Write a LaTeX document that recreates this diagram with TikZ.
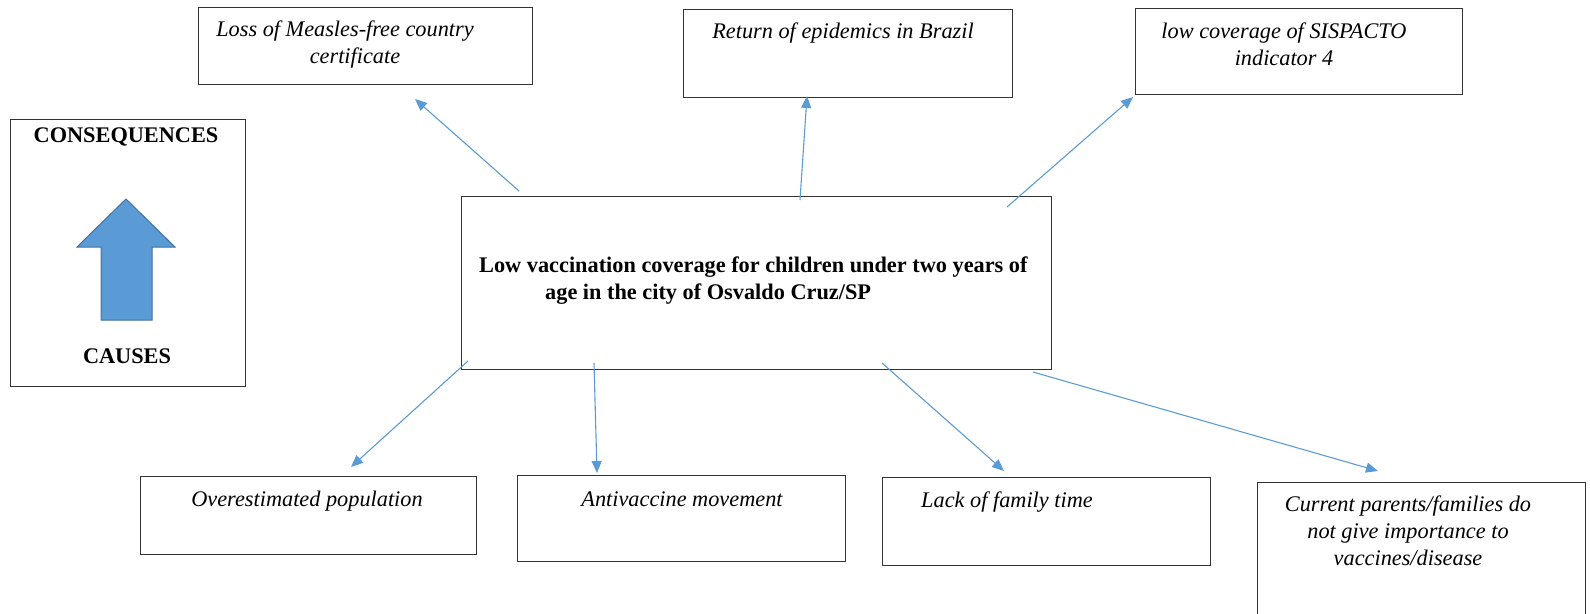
\documentclass[tikz,border=0pt]{standalone}
\usepackage{fontspec}
\setmainfont{Liberation Serif}
\usetikzlibrary{arrows.meta}
\definecolor{linkblue}{HTML}{5B9BD5}
\definecolor{arrowedge}{HTML}{41719C}
\begin{document}
\begin{tikzpicture}[x=1pt,y=-1pt,
  box/.style={draw=black!80,line width=1.2pt,anchor=north west,inner sep=0pt},
  itext/.style={font=\fontsize{22.3}{27}\selectfont\itshape,anchor=base,inner sep=0pt},
  btext/.style={font=\fontsize{22.3}{27}\selectfont\bfseries,anchor=base,inner sep=0pt},
  link/.style={draw=linkblue,line width=1.1pt,-{Triangle[length=12pt,width=10pt]}}]
\useasboundingbox (0,0) rectangle (1590,613);

% boxes
\node[box,minimum width=334pt,minimum height=77pt] (loss) at (198,7) {};
\node[box,minimum width=329pt,minimum height=88pt] (ret) at (683,9) {};
\node[box,minimum width=327pt,minimum height=86pt] (low) at (1135,8) {};
\node[box,minimum width=235pt,minimum height=267pt] (legend) at (10,119) {};
\node[box,minimum width=590pt,minimum height=173pt] (main) at (461,196) {};
\node[box,minimum width=336pt,minimum height=78pt] (over) at (140,476) {};
\node[box,minimum width=328pt,minimum height=86pt] (anti) at (517,475) {};
\node[box,minimum width=328pt,minimum height=88pt] (lack) at (882,477) {};
\node[box,minimum width=328pt,minimum height=160pt] (curr) at (1257,482) {};

% texts
\node[itext] (lossA) at (345,36) {Loss of Measles-free country};
\node[itext] (lossB) at (355,63) {certificate};
\node[itext] (retA) at (843,38) {Return of epidemics in Brazil};
\node[itext] (lowA) at (1284,38) {low coverage of SISPACTO};
\node[itext] (lowB) at (1284,65) {indicator 4};
\node[btext] (legA) at (126,142) {CONSEQUENCES};
\node[btext] (legB) at (127,363) {CAUSES};
\node[btext,anchor=base west] (mainA) at (479,272) {Low vaccination coverage for children under two years of};
\node[btext,anchor=base west] (mainB) at (545,299) {age in the city of Osvaldo Cruz/SP};
\node[itext] (overA) at (307,506) {Overestimated population};
\node[itext] (antiA) at (682,506) {Antivaccine movement};
\node[itext] (lackA) at (1007,507) {Lack of family time};
\node[itext] (currA) at (1408,511) {Current parents/families do};
\node[itext] (currB) at (1408,538) {not give importance to};
\node[itext] (currC) at (1408,565) {vaccines/disease};

% big arrow
\draw[fill=linkblue,draw=arrowedge,line width=1pt,line join=miter]
  (126,199) -- (175,247) -- (152,247) -- (152,320) -- (101,320) -- (101,247) -- (77,247) -- cycle;

% connector end points
\coordinate (s1) at (519,191);  \coordinate (e1) at (415,99);
\coordinate (s2) at (800,200);  \coordinate (e2) at (807,96);
\coordinate (s3) at (1007,207); \coordinate (e3) at (1133,97);
\coordinate (s4) at (468,361);  \coordinate (e4) at (351,467);
\coordinate (s5) at (594,363);  \coordinate (e5) at (597,473);
\coordinate (s6) at (882,363);  \coordinate (e6) at (1004,471);
\coordinate (s7) at (1033,372); \coordinate (e7) at (1378,471);

\draw[link] (s1) -- (e1);
\draw[link] (s2) -- (e2);
\draw[link] (s3) -- (e3);
\draw[link] (s4) -- (e4);
\draw[link] (s5) -- (e5);
\draw[link] (s6) -- (e6);
\draw[link] (s7) -- (e7);
\end{tikzpicture}
\end{document}
